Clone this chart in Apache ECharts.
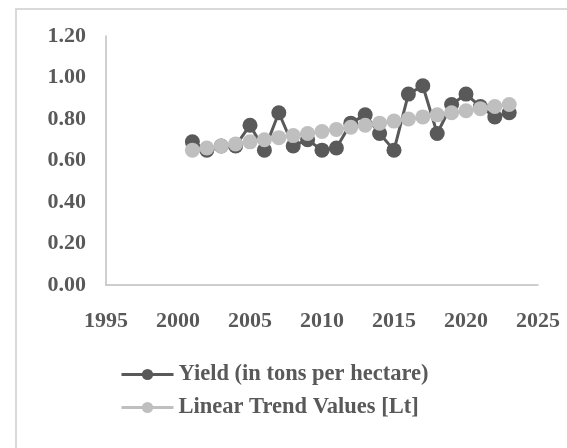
<!DOCTYPE html>
<html>
<head>
<meta charset="utf-8">
<script src="https://cdn.jsdelivr.net/npm/echarts@6/dist/echarts.min.js"></script>
<style>
html,body{margin:0;padding:0;background:#fff;}
#chart{width:567px;height:448px;}
</style>
</head>
<body>
<div id="chart"></div>
<script>
const years = [2001,2002,2003,2004,2005,2006,2007,2008,2009,2010,2011,2012,2013,2014,2015,2016,2017,2018,2019,2020,2021,2022,2023];
const yieldValues = [0.69,0.65,0.67,0.67,0.77,0.65,0.83,0.67,0.70,0.65,0.66,0.78,0.82,0.73,0.65,0.92,0.96,0.73,0.87,0.92,0.86,0.81,0.83];
const trendValues = [0.65,0.66,0.67,0.68,0.69,0.70,0.71,0.72,0.73,0.74,0.75,0.76,0.77,0.78,0.79,0.80,0.81,0.82,0.83,0.84,0.85,0.86,0.87];
const seriesNames = ['Yield (in tons per hectare)','Linear Trend Values [Lt]'];

const chart = echarts.init(document.getElementById('chart'));
const font = '"Liberation Serif","Times New Roman",serif';
const textColor = '#595959';

chart.setOption({
  animation: false,
  backgroundColor: '#ffffff',
  graphic: [{
    type: 'rect',
    shape: {x: 16, y: 9, width: 620, height: 520},
    style: {fill: 'none', stroke: '#d9d9d9', lineWidth: 2},
    silent: true
  }],
  grid: {left: 106, right: 29, top: 36, bottom: 163, containLabel: false},
  xAxis: {
    type: 'value', min: 1995, max: 2025, interval: 5,
    axisLine: {show: true, lineStyle: {color: '#bfbfbf', width: 1.5}},
    axisTick: {show: false},
    splitLine: {show: false},
    axisLabel: {
      margin: 25, color: textColor, fontFamily: font, fontWeight: 'bold', fontSize: 22,
      formatter: v => String(v)
    }
  },
  yAxis: {
    type: 'value', min: 0, max: 1.2, interval: 0.2,
    axisLine: {show: true, lineStyle: {color: '#bfbfbf', width: 1.5}},
    axisTick: {show: false},
    splitLine: {show: false},
    axisLabel: {
      margin: 20, color: textColor, fontFamily: font, fontWeight: 'bold', fontSize: 22,
      formatter: v => v.toFixed(2)
    }
  },
  legend: {
    orient: 'vertical', left: 115, top: 358,
    itemWidth: 52, itemHeight: 14, itemGap: 10,
    lineStyle: {width: 3},
    textStyle: {color: textColor, fontFamily: font, fontWeight: 'bold', fontSize: 22.5, lineHeight: 22},
    data: seriesNames
  },
  series: [
    {
      name: seriesNames[0], type: 'line',
      data: years.map((y, i) => [y, yieldValues[i]]),
      symbol: 'circle', symbolSize: 15,
      lineStyle: {color: '#595959', width: 3},
      itemStyle: {color: '#595959'},
      z: 2
    },
    {
      name: seriesNames[1], type: 'line',
      data: years.map((y, i) => [y, trendValues[i]]),
      symbol: 'circle', symbolSize: 15,
      lineStyle: {color: '#bfbfbf', width: 3},
      itemStyle: {color: '#bfbfbf'},
      z: 3
    }
  ]
});
</script>
</body>
</html>
